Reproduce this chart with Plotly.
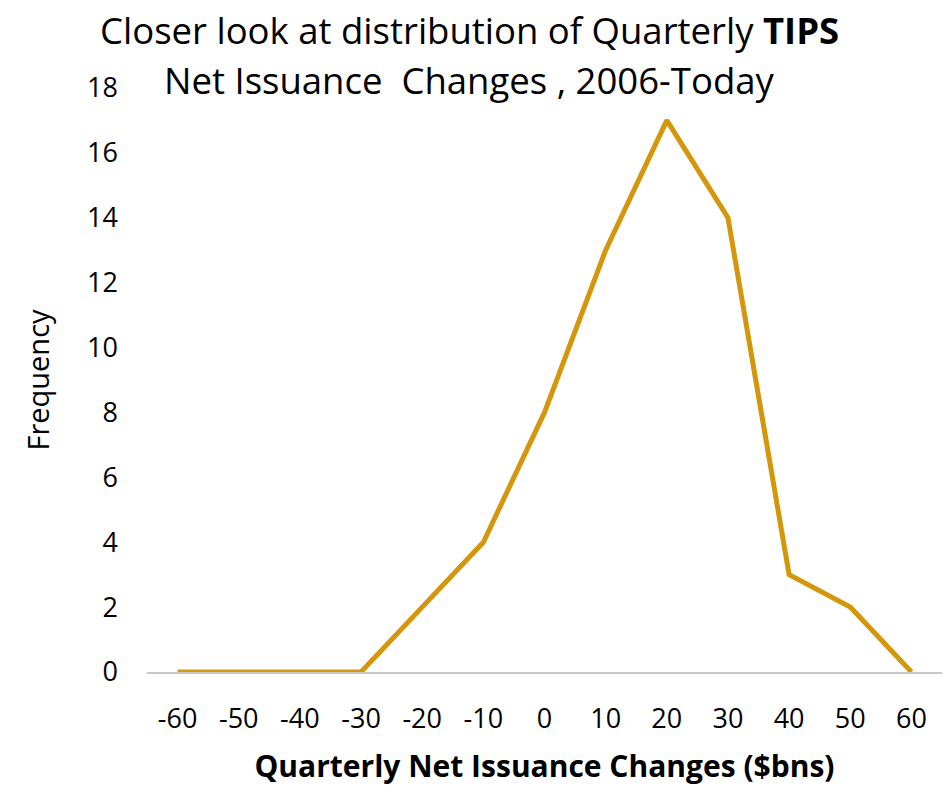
import plotly.graph_objects as go

# Histogram-style frequency polygon of quarterly TIPS net issuance changes
bins = ["-60", "-50", "-40", "-30", "-20", "-10", "0", "10", "20", "30", "40", "50", "60"]
frequency = [0, 0, 0, 0, 2, 4, 8, 13, 17, 14, 3, 2, 0]
y_ticks = [0, 2, 4, 6, 8, 10, 12, 14, 16, 18]

FONT = "Open Sans"
LINE_COLOR = "#D4960A"

fig = go.Figure(
    go.Scatter(
        x=bins,
        y=frequency,
        mode="lines",
        line=dict(color=LINE_COLOR, width=5),
        hoverinfo="x+y",
    )
)

fig.update_layout(
    width=947,
    height=786,
    margin=dict(l=147, r=5, t=88, b=114),
    paper_bgcolor="white",
    plot_bgcolor="white",
    showlegend=False,
    font=dict(family=FONT, color="black", size=27),
)

fig.add_annotation(
    text="Closer look at distribution of Quarterly <b>TIPS</b>",
    xref="paper", yref="paper", x=0.406, y=1.0, yshift=58,
    xanchor="center", yanchor="middle", showarrow=False,
    font=dict(family=FONT, size=36.5, color="black"),
)
fig.add_annotation(
    text="Net Issuance  Changes , 2006-Today",
    xref="paper", yref="paper", x=0.406, y=1.0, yshift=8,
    xanchor="center", yanchor="middle", showarrow=False,
    font=dict(family=FONT, size=36.5, color="black"),
)

fig.update_xaxes(
    type="category",
    range=[-0.5, len(bins) - 0.5],
    showgrid=False,
    showline=True,
    linecolor="#C8C8C8",
    linewidth=2,
    ticks="",
    ticklabelstandoff=22,
    tickfont=dict(size=27),
    title=dict(
        text="<b>Quarterly Net Issuance Changes ($bns)</b>",
        font=dict(size=30),
        standoff=22,
    ),
)

fig.update_yaxes(
    range=[0, 18],
    tickvals=y_ticks,
    showgrid=False,
    zeroline=False,
    showline=False,
    ticks="",
    ticklabelstandoff=28,
    tickfont=dict(size=27),
    title=dict(text="Frequency", font=dict(size=29), standoff=28),
)

fig.write_html("out.html")
